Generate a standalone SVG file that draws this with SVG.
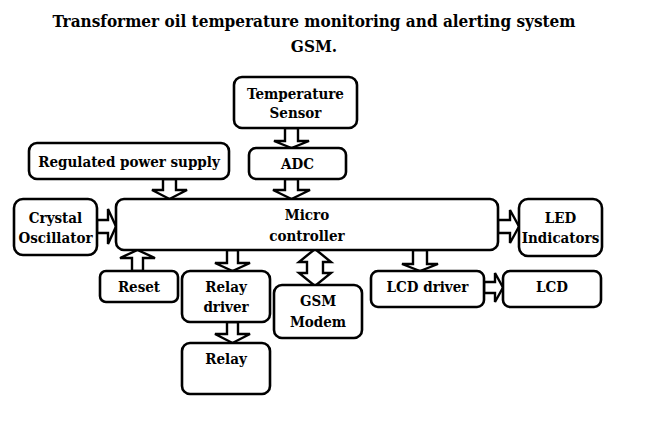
<svg xmlns="http://www.w3.org/2000/svg" width="658" height="423" viewBox="0 0 658 423">
<style>
.box{fill:#fff;stroke:#000;stroke-width:2.6}
.arr{fill:#fff;stroke:#000;stroke-width:2.4;stroke-linejoin:miter}
.t{font-size:15px;font-weight:bold;font-stretch:condensed;fill:#000;text-anchor:middle}
.title{font-size:17px;font-weight:bold;font-stretch:condensed;fill:#000;text-anchor:middle}
</style>
<rect width="658" height="423" fill="#fff"/>
<g font-family="DejaVu Serif, serif">
<text class="title" x="314" y="27">Transformer oil temperature monitoring and alerting system</text>
<text class="title" x="314" y="52">GSM.</text>
<g id="connectors">
<polygon class="arr" points="285,128 298,128 298,141 309,141 291.5,148 274,141 285,141"/>
<polygon class="arr" points="285,179 298,179 298,190 310,190 291.5,199 273,190 285,190"/>
<polygon class="arr" points="163,179 176,179 176,190 187,190 169.5,199 152,190 163,190"/>
<polygon class="arr" points="97,220 108,220 108,209 116,226.5 108,244 108,233 97,233"/>
<polygon class="arr" points="498,220 510,220 510,210 519,226.5 510,243 510,233 498,233"/>
<polygon class="arr" points="132,271 143,271 143,258 155,258 137.5,250 120,258 132,258"/>
<polygon class="arr" points="227,250 238,250 238,263 250,263 232.5,271 215,263 227,263"/>
<polygon class="arr" points="227,322 238,322 238,334 250,334 232.5,343 215,334 227,334"/>
<polygon class="arr" points="413,250 427,250 427,264 438,264 420,271 402,264 413,264"/>
<polygon class="arr" points="484,282 495,282 495,273 503,287.5 495,302 495,293 484,293"/>
<polygon class="arr" points="315,249 331,262 323,262 323,273 331,273 315,286 299,273 307,273 307,262 299,262"/>
</g>
<g id="temp-sensor"><rect class="box" x="234" y="77" width="123" height="51" rx="8"/><text class="t" x="295.5" y="99">Temperature</text><text class="t" x="295.5" y="118">Sensor</text></g>
<g id="adc"><rect class="box" x="249" y="148" width="97" height="31" rx="7"/><text class="t" x="297.5" y="169">ADC</text></g>
<g id="power-supply"><rect class="box" x="29" y="143" width="200" height="36" rx="8"/><text class="t" x="129" y="167">Regulated power supply</text></g>
<g id="microcontroller"><rect class="box" x="116" y="199" width="382" height="51" rx="8"/><text class="t" x="307" y="220">Micro</text><text class="t" x="307" y="241">controller</text></g>
<g id="crystal"><rect class="box" x="14" y="199" width="83" height="56" rx="9"/><text class="t" x="55.5" y="223">Crystal</text><text class="t" x="55.5" y="243">Oscillator</text></g>
<g id="led"><rect class="box" x="519" y="199" width="83" height="57" rx="9"/><text class="t" x="560.5" y="223">LED</text><text class="t" x="560.5" y="243">Indicators</text></g>
<g id="reset"><rect class="box" x="100" y="271" width="78" height="31" rx="6"/><text class="t" x="139" y="292">Reset</text></g>
<g id="relay-driver"><rect class="box" x="182" y="271" width="88" height="51" rx="8"/><text class="t" x="226" y="292">Relay</text><text class="t" x="226" y="312">driver</text></g>
<g id="gsm"><rect class="box" x="274" y="285" width="88" height="53" rx="8"/><text class="t" x="318" y="306">GSM</text><text class="t" x="318" y="327">Modem</text></g>
<g id="relay"><rect class="box" x="182" y="343" width="88" height="51" rx="8"/><text class="t" x="226" y="364">Relay</text></g>
<g id="lcd-driver"><rect class="box" x="371" y="271" width="113" height="36" rx="7"/><text class="t" x="427.5" y="292">LCD driver</text></g>
<g id="lcd"><rect class="box" x="503" y="271" width="98" height="36" rx="7"/><text class="t" x="552" y="292">LCD</text></g>
</g>
</svg>
